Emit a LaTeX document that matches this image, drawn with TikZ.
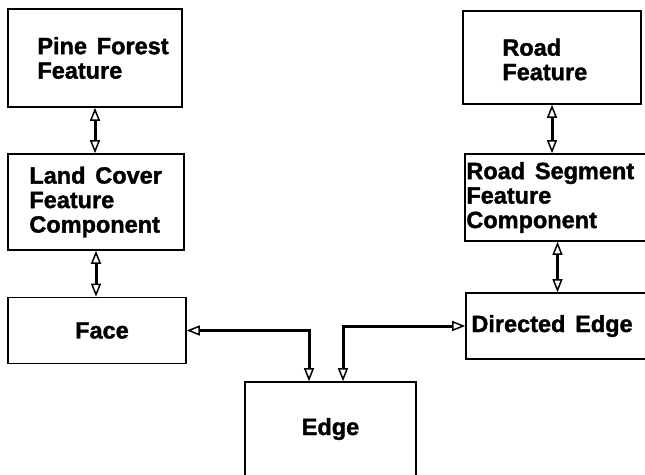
\documentclass[tikz,border=0pt]{standalone}
\usepackage{fontspec}
\setmainfont{Liberation Sans}[WordSpace=1.5,BoldFeatures={FakeBold=1.5}]
\usetikzlibrary{arrows.meta,positioning}
\tikzset{
  featbox/.style={draw,rectangle,line width=1.6pt,inner sep=0pt},
  boxtext/.style={align=left,inner sep=0pt,font=\bfseries\fontsize{23.5}{24.5}\selectfont},
  link/.style={line width=3pt,
    {Triangle[open,length=13pt,width=10pt,line width=1.5pt]}-{Triangle[open,length=13pt,width=10pt,line width=1.5pt]}},
}

\begin{document}
\begin{tikzpicture}[x=1pt,y=-1pt]
\useasboundingbox (0,0) rectangle (645,474);
\clip (0,0) rectangle (645,474);

% left column: land cover side
\node[featbox,minimum width=174pt,minimum height=98pt] (pine) at (95,58) {};
\node[boxtext,anchor=west] (pinetxt) at ([xshift=30pt]pine.west) {Pine Forest\\Feature};
\node[featbox,minimum width=176pt,minimum height=96pt] (land) at (96,202) {};
\node[boxtext,anchor=west] (landtxt) at ([xshift=22pt]land.west) {Land Cover\\Feature\\Component};
\node[featbox,boxtext,minimum width=178pt,minimum height=66pt] (face) at (97,330.5) {\hspace*{10pt}Face};

% right column: road side
\node[featbox,minimum width=178pt,minimum height=93pt] (road) at (552,57.5) {};
\node[boxtext,anchor=west] (roadtxt) at ([xshift=40pt,yshift=-2pt]road.west) {Road\\Feature};
\node[featbox,minimum width=185pt,minimum height=87pt] (roadseg) at (557.5,197.5) {};
\node[boxtext,anchor=west] (roadsegtxt) at ([xshift=2pt]roadseg.west) {Road Segment\\Feature\\Component};
\node[featbox,minimum width=184pt,minimum height=66pt] (directed) at (558,326) {};
\node[boxtext,anchor=west] (directedtxt) at ([xshift=6pt]directed.west) {Directed Edge};

% shared edge
\node[featbox,boxtext,minimum width=171pt,minimum height=94pt] (edge) at (330.5,429) {Edge};

% vertical links
\draw[link] (pine.south) -- (pine.south |- land.north);
\draw[link] (land.south) -- (land.south |- face.north);
\draw[link] (road.south) -- (road.south |- roadseg.north);
\draw[link] (roadseg.south) -- (roadseg.south |- directed.north);

% links down to the edge
\coordinate (faceturn) at ([xshift=-21.5pt]edge.north |- face.east);
\coordinate (dirturn) at ([xshift=12.5pt]edge.north |- directed.west);
\draw[link] (face.east) -- (faceturn) -- (faceturn |- edge.north);
\draw[link] (directed.west) -- (dirturn) -- (dirturn |- edge.north);

\end{tikzpicture}
\end{document}
